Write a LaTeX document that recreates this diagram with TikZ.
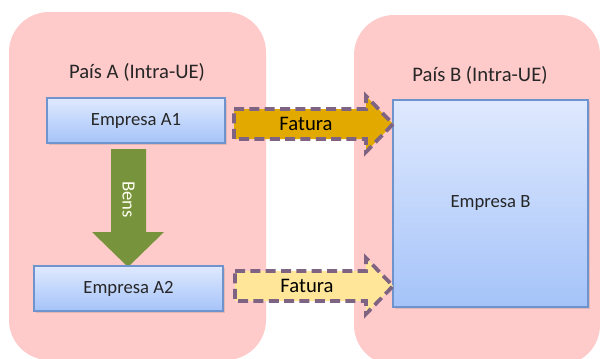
\documentclass[tikz,border=0pt]{standalone}
\usepackage{fontspec}
\setmainfont{Carlito}
\usetikzlibrary{shadows}

\definecolor{countrypink}{HTML}{FFCACA}
\definecolor{firmtop}{HTML}{DFE9FE}
\definecolor{firmbottom}{HTML}{A5C3F9}
\definecolor{firmedge}{HTML}{6F93CC}
\definecolor{goodsgreen}{HTML}{77933C}
\definecolor{invoicegold}{HTML}{E2AA00}
\definecolor{invoicelight}{HTML}{FFE699}
\definecolor{invoiceedge}{HTML}{7F6383}
\definecolor{textdark}{HTML}{262626}

\begin{document}
\begin{tikzpicture}[x=0.75pt,y=-0.75pt,
  country/.style={fill=countrypink, draw=none, rounded corners=30pt},
  countrytitle/.style={font=\fontsize{15.5}{18}\selectfont, text=textdark},
  firm/.style={draw=firmedge, line width=0.8pt, top color=firmtop,
    bottom color=firmbottom, font=\fontsize{14}{16}\selectfont, text=textdark,
    drop shadow={shadow xshift=1.2pt, shadow yshift=-1.5pt, opacity=0.25}},
  invoice/.style={draw=invoiceedge, line width=2.8pt, dash pattern=on 7.5pt off 4pt,
    line join=miter},
  invoicetext/.style={font=\fontsize{15.5}{18}\selectfont, text=black},
  goods/.style={fill=goodsgreen, draw=none},
  goodstext/.style={font=\fontsize{14}{16}\selectfont, text=white!95!yellow}]
\useasboundingbox (0,0) rectangle (600,358);

% countries
\node[country, minimum width=257*0.75pt, minimum height=348*0.75pt] (cA) at (137.5,186) {};
\node[country, minimum width=246*0.75pt, minimum height=350*0.75pt] (cB) at (477,190) {};
\node[countrytitle] (tA) at (137,72) {País A (Intra-UE)};
\node[countrytitle] (tB) at (480,75) {País B (Intra-UE)};

% goods flow inside country A
\fill[goods] (111,149) -- (146,149) -- (146,232) -- (164,232) -- (128,267)
  -- (92,232) -- (111,232) -- cycle;
\node[goodstext, rotate=-90] (bens) at (128.5,199.5) {Bens};

% companies
\node[firm, minimum width=178*0.75pt, minimum height=45*0.75pt] (A1) at (136,120.5) {Empresa A1};
\node[firm, minimum width=189*0.75pt, minimum height=45*0.75pt] (A2) at (128.5,288.5) {Empresa A2};
\node[firm, minimum width=195*0.75pt, minimum height=207*0.75pt] (B) at (490.5,203.5) {Empresa B};

% invoices towards country B
\draw[invoice, fill=invoicegold] (234,109) -- (366,109) -- (366,96) -- (393,124)
  -- (366,152) -- (366,139) -- (234,139) -- cycle;
\node[invoicetext] (f1) at (306,124) {Fatura};
\draw[invoice, fill=invoicelight] (235,271) -- (366,271) -- (366,258) -- (393,286)
  -- (366,314) -- (366,301) -- (235,301) -- cycle;
\node[invoicetext] (f2) at (307,286) {Fatura};
\end{tikzpicture}
\end{document}
